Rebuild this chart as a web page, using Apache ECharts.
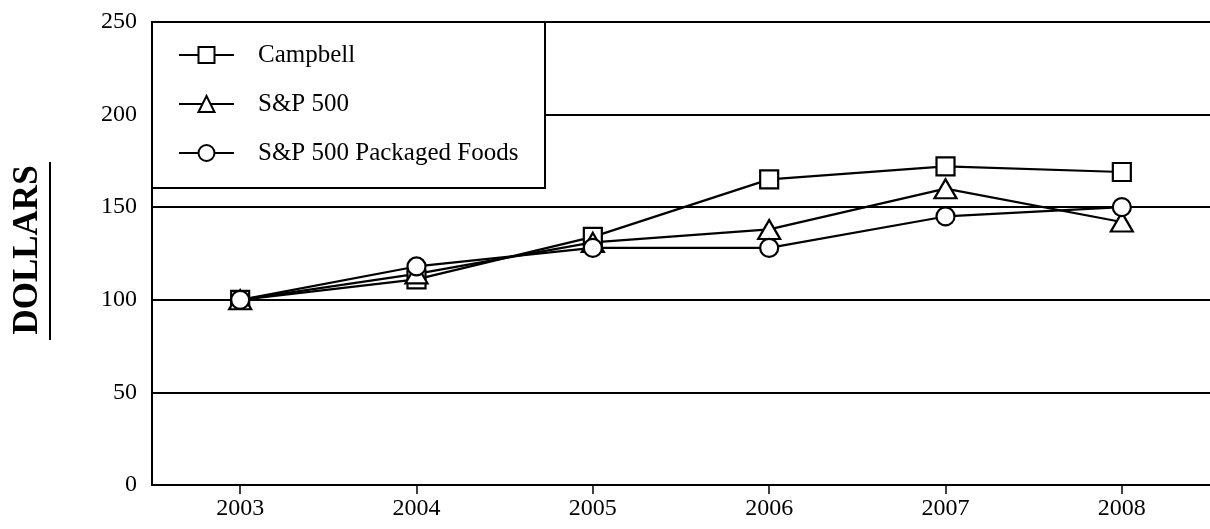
<!DOCTYPE html>
<html>
<head>
<meta charset="utf-8">
<script src="https://cdn.jsdelivr.net/npm/echarts@6/dist/echarts.min.js"></script>
<style>html,body{margin:0;padding:0;background:#fff}#c{width:1210px;height:529px}</style>
</head>
<body>
<div id="c"></div>
<script>
var years = ['2003', '2004', '2005', '2006', '2007', '2008'];
var campbell = [100, 111, 134, 165, 172, 169];
var sp500 = [100, 114, 131, 138, 160, 142];
var packagedFoods = [100, 118, 128, 128, 145, 150];
var seriesNames = ['Campbell', 'S&P 500', 'S&P 500 Packaged Foods'];
var yTicks = [0, 50, 100, 150, 200, 250];

var FONT = 'Liberation Serif';
var chart = echarts.init(document.getElementById('c'));

function mk(name, data, symbol, size) {
  return {
    name: name, type: 'line', data: data, symbol: symbol, symbolSize: size,
    showAllSymbol: true, z: 5,
    lineStyle: { color: '#000', width: 2.2 },
    itemStyle: { color: '#fff', borderColor: '#000', borderWidth: 2.2 },
    emphasis: { disabled: true }
  };
}

chart.setOption({
  animation: false,
  backgroundColor: '#fff',
  grid: { left: 152, right: -13, top: 22, bottom: 44 },
  xAxis: {
    type: 'category', data: years, boundaryGap: true,
    axisLine: { lineStyle: { color: '#000', width: 2 } },
    axisTick: { show: true, alignWithLabel: true, interval: 0, length: 9, lineStyle: { color: '#000', width: 1.5 } },
    axisLabel: { color: '#000', fontFamily: FONT, fontSize: 24, margin: 12 }
  },
  yAxis: {
    type: 'value', min: 0, max: 250, interval: 50,
    axisLine: { show: true, lineStyle: { color: '#000', width: 2 } },
    axisTick: { show: true, inside: true, length: 6, lineStyle: { color: '#000', width: 2 } },
    axisLabel: { color: '#000', fontFamily: FONT, fontSize: 24, margin: 15,
      formatter: function (v) { return yTicks.indexOf(v) >= 0 ? String(v) : ''; } },
    splitLine: { show: true, lineStyle: { color: '#000', width: 2 } }
  },
  legend: {
    orient: 'vertical', left: 173, top: 37, itemGap: 23,
    itemWidth: 55, itemHeight: 20, z: 10,
    textStyle: { color: '#000', fontFamily: FONT, fontSize: 25, lineHeight: 26, padding: [0, 0, 0, 19] },
    data: seriesNames
  },
  graphic: [
    { type: 'rect', z: 8, shape: { x: 152, y: 22, width: 393, height: 166 },
      style: { fill: '#fff', stroke: '#000', lineWidth: 2 } },
    { type: 'text', x: 28, y: 250, rotation: Math.PI / 2,
      style: { text: 'DOLLARS', fill: '#000', font: 'bold 35px "Liberation Serif"',
        align: 'center', verticalAlign: 'middle' } },
    { type: 'line', shape: { x1: 50, y1: 162, x2: 50, y2: 340 },
      style: { stroke: '#000', lineWidth: 2 } }
  ],
  series: [
    mk(seriesNames[0], campbell, 'rect', 18),
    mk(seriesNames[1], sp500, 'triangle', [22, 19]),
    mk(seriesNames[2], packagedFoods, 'circle', 18)
  ]
});
</script>
</body>
</html>
